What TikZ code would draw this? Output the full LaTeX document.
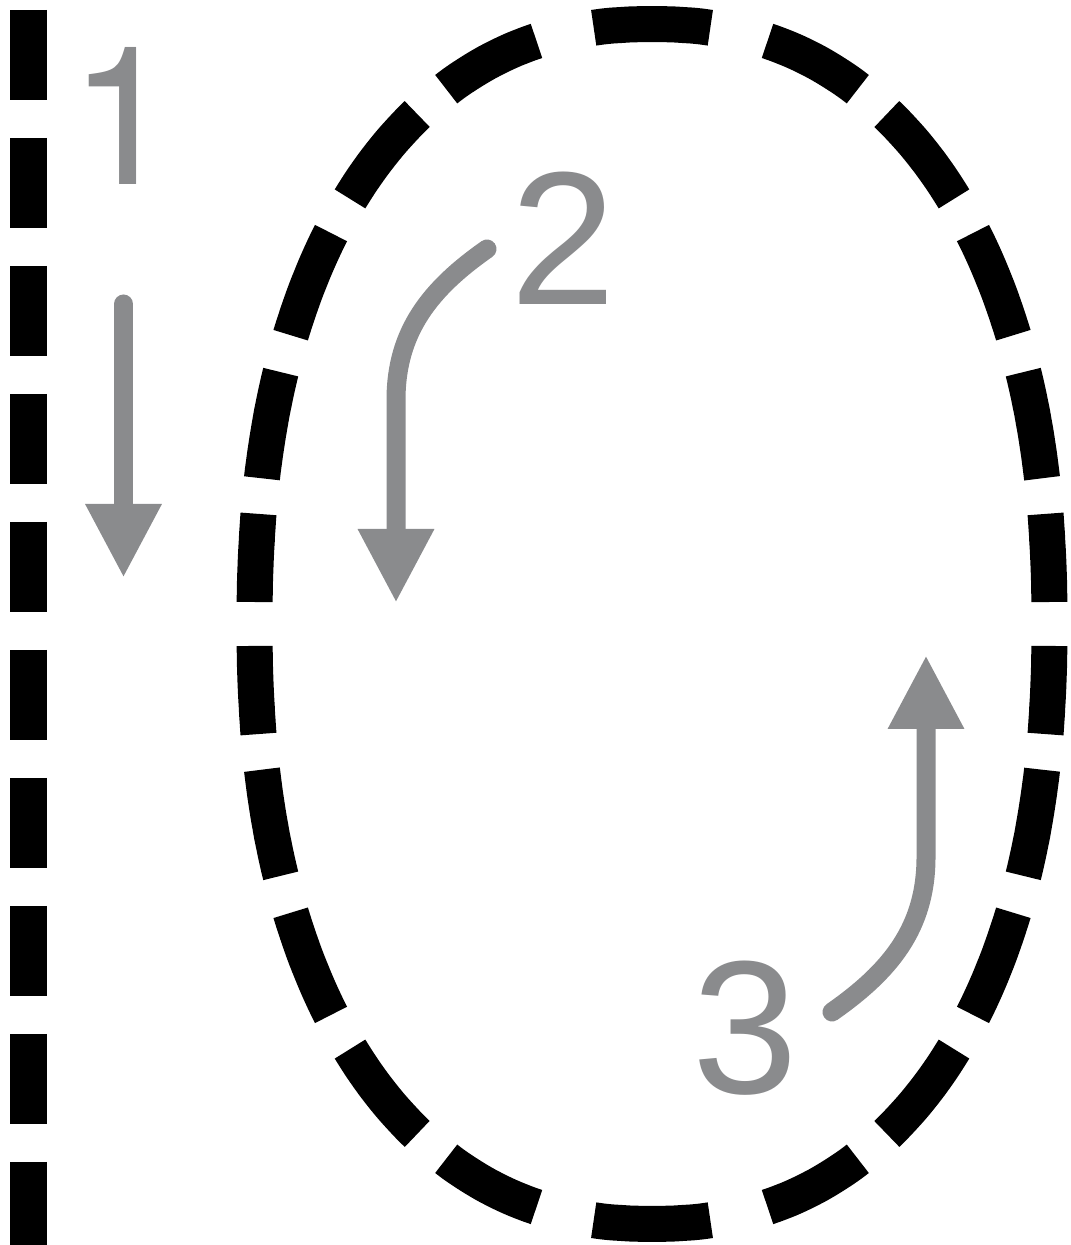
\documentclass[tikz,border=0pt]{standalone}
\usepackage{fontspec}
\newfontfamily\numfont{Liberation Sans}
\newfontfamily\onefont{TeX Gyre Heros}
\usetikzlibrary{arrows.meta}
\definecolor{arrowgray}{RGB}{138,139,141}
\begin{document}
\begin{tikzpicture}[
	rail/.style={line width=0.37cm,dash pattern=on 0.9cm off 0.38cm},
	ring/.style={line width=0.36cm},
	flow/.style={arrowgray,line width=0.19cm,line cap=round,-{Triangle[width=0.71cm,length=0.74cm]}},
	numlabel/.style={font=\numfont\fontsize{54}{54}\selectfont,text=arrowgray,inner sep=0pt,anchor=base}]
	\useasboundingbox (0,0) rectangle (10.70,12.45);
	\def\rx{3.975}
	\def\ry{6.00}
	\def\sq{2.25}
	\coordinate (ctr) at (6.52,6.21);
	\coordinate (railtop) at (0.285,12.35);
	\coordinate (railbot) at (0.285,0);
	\draw[rail] (railtop) -- (railbot);
	\foreach \c/\h in {90/8.4,66.6/6.75,49.1/6.1,33.4/5.5,19.05/5.15,6.3/4.2,
		-6.3/4.2,-19.05/5.15,-33.4/5.5,-49.1/6.1,-66.6/6.75,270/8.4,
		113.4/6.75,130.9/6.1,146.6/5.5,160.95/5.15,173.7/4.2,
		186.3/4.2,199.05/5.15,213.4/5.5,229.1/6.1,246.6/6.75}{
		\draw[ring,shift={(ctr)}] plot[domain=\c-\h:\c+\h,samples=14,smooth]
			({\rx*cos(\x)/(pow(abs(cos(\x))+0.00001,\sq)+pow(abs(sin(\x))+0.00001,\sq))^(1/\sq)},
			{\ry*sin(\x)/(pow(abs(cos(\x))+0.00001,\sq)+pow(abs(sin(\x))+0.00001,\sq))^(1/\sq)});
	}
	\node[numlabel,font=\onefont\fontsize{55}{55}\selectfont] (n1) at (1.23,10.60) {1};
	\node[numlabel] (n2) at (5.63,9.40) {2};
	\node[numlabel] (n3) at (7.45,1.51) {3};
	\coordinate (a1s) at (1.235,9.41);
	\coordinate (a1e) at (1.235,6.67);
	\draw[flow] (a1s) -- (a1e);
	\coordinate (a2s) at (4.87,9.96);
	\coordinate (a2k) at (3.96,8.45);
	\coordinate (a2e) at (3.96,6.42);
	\draw[flow] (a2s) to[out=215,in=90] (a2k) -- (a2e);
	\coordinate (a3s) at (8.32,2.33);
	\coordinate (a3k) at (9.26,3.88);
	\coordinate (a3e) at (9.26,5.90);
	\draw[flow] (a3s) to[out=35,in=-90] (a3k) -- (a3e);
\end{tikzpicture}
\end{document}
